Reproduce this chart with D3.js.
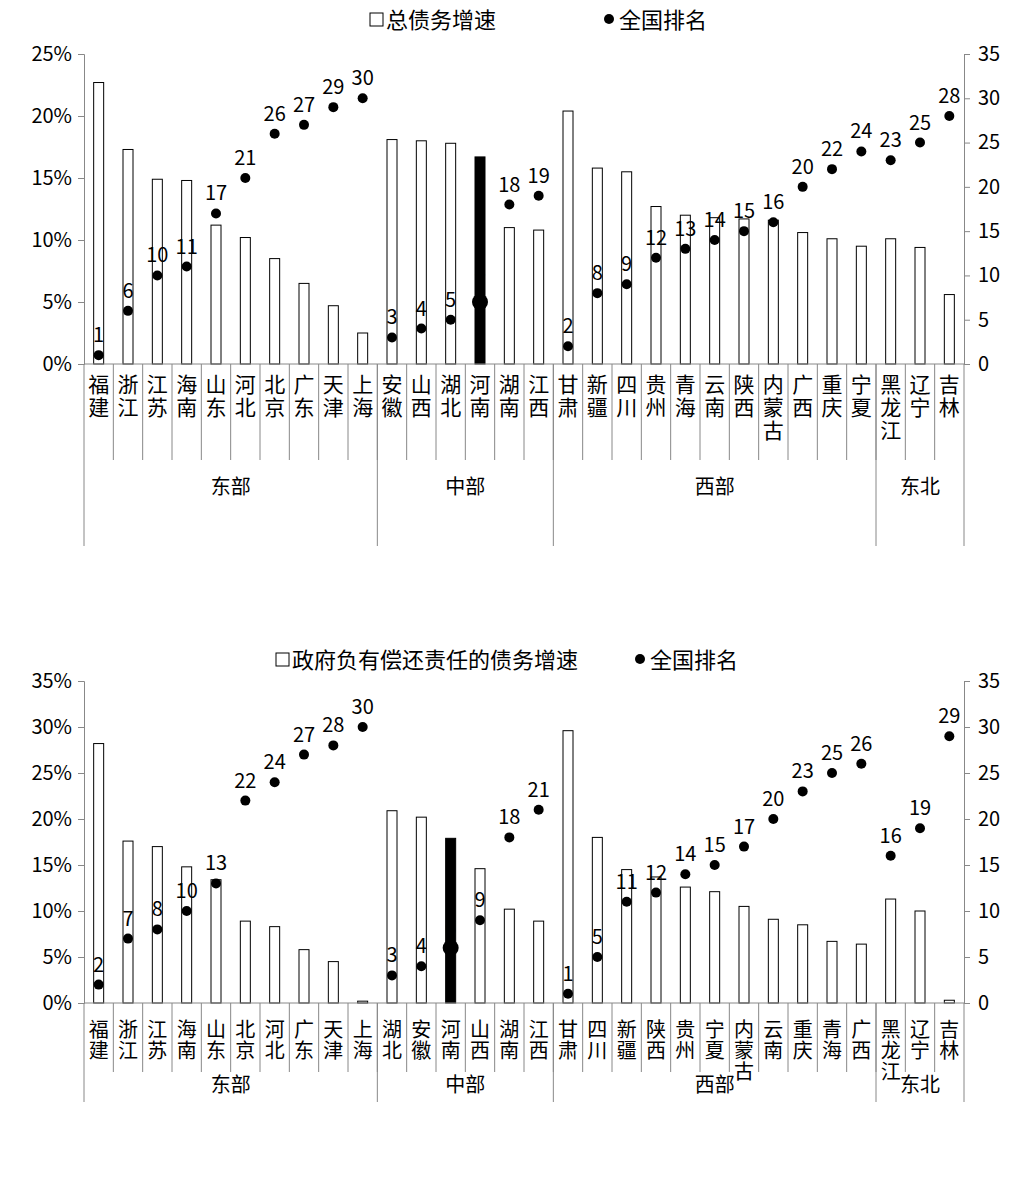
<!DOCTYPE html>
<html><head><meta charset="utf-8">
<script src="https://cdn.jsdelivr.net/npm/d3@7"></script>
<style>body{margin:0;background:#fff}text{font-family:"Noto Sans CJK SC","DejaVu Sans",sans-serif}</style>
</head><body><svg id="c" width="1020" height="1185"></svg>
<script>
const groups1=[["东部",10],["中部",6],["西部",11],["东北",3]];
const cats1=["福建","浙江","江苏","海南","山东","河北","北京","广东","天津","上海","安徽","山西","湖北","河南","湖南","江西","甘肃","新疆","四川","贵州","青海","云南","陕西","内蒙古","广西","重庆","宁夏","黑龙江","辽宁","吉林"];
const vals1=[22.7,17.3,14.9,14.8,11.2,10.2,8.5,6.5,4.7,2.5,18.1,18.0,17.8,16.7,11.0,10.8,20.4,15.8,15.5,12.7,12.0,11.8,11.7,11.6,10.6,10.1,9.5,10.1,9.4,5.6];
const ranks1=[1,6,10,11,17,21,26,27,29,30,3,4,5,7,18,19,2,8,9,12,13,14,15,16,20,22,24,23,25,28];
const cats2=["福建","浙江","江苏","海南","山东","北京","河北","广东","天津","上海","湖北","安徽","河南","山西","湖南","江西","甘肃","四川","新疆","陕西","贵州","宁夏","内蒙古","云南","重庆","青海","广西","黑龙江","辽宁","吉林"];
const vals2=[28.2,17.6,17.0,14.8,13.4,8.9,8.3,5.8,4.5,0.2,20.9,20.2,17.9,14.6,10.2,8.9,29.6,18.0,14.5,13.7,12.6,12.1,10.5,9.1,8.5,6.7,6.4,11.3,10.0,0.3];
const ranks2=[2,7,8,10,13,22,24,27,28,30,3,4,6,9,18,21,1,5,11,12,14,15,17,20,23,25,26,16,19,29];
const leftTicks1=[0,5,10,15,20,25], leftTicks2=[0,5,10,15,20,25,30,35], rightTicks=[0,5,10,15,20,25,30,35];
const svg=d3.select("#c");
function chart(o){
  const g=svg.append("g");
  const x=d3.scaleBand().domain(o.cats).range([84,964]);
  const y=d3.scaleLinear().domain([0,o.ymax]).range([o.y0,o.y1]);
  const yr=d3.scaleLinear().domain([0,35]).range([o.y0,o.y1]);
  const gray="#888";
  const la=g.append("g").attr("transform","translate(84,0)").call(d3.axisLeft(y).tickValues(o.lt).tickFormat(d=>d+"%").tickSize(6));
  const ra=g.append("g").attr("transform","translate(964,0)").call(d3.axisRight(yr).tickValues(rightTicks).tickSize(6));
  [la,ra].forEach(a=>{a.selectAll("path,line").attr("stroke",gray);a.selectAll("text").attr("font-size",20).attr("fill","#000").attr("font-family","'Noto Sans','DejaVu Sans',sans-serif");});
  la.selectAll("text").attr("x",-12);ra.selectAll("text").attr("x",14);
  g.selectAll(".b").data(o.cats).join("rect").attr("x",d=>x(d)+x.bandwidth()/2-5).attr("width",10)
   .attr("y",(d,i)=>y(o.vals[i])).attr("height",(d,i)=>o.y0-y(o.vals[i]))
   .attr("fill",d=>d==="河南"?"#000":"#fff").attr("stroke","#000").attr("stroke-width",1);
  g.append("line").attr("x1",84).attr("x2",964).attr("y1",o.y0).attr("y2",o.y0).attr("stroke",gray);
  o.cats.forEach((c,i)=>{ if(i>0) g.append("line").attr("x1",x(c)).attr("x2",x(c)).attr("y1",o.y0).attr("y2",o.lv1).attr("stroke",gray);});
  let idx=0;
  const bounds=[84];
  o.groups.forEach(([n,k])=>{const xs=x(o.cats[idx]);idx+=k;const xe=idx<o.cats.length?x(o.cats[idx]):964;bounds.push(xe);
    g.append("text").attr("x",(xs+xe)/2).attr("y",o.gy).attr("text-anchor","middle").attr("font-size",20).text(n);});
  bounds.forEach(b=>g.append("line").attr("x1",b).attr("x2",b).attr("y1",o.y0).attr("y2",o.bot).attr("stroke",gray));
  o.cats.forEach(c=>{const t=g.append("text").attr("text-anchor","middle").attr("font-size",o.fs);
    [...c].forEach((ch,j)=>t.append("tspan").attr("x",x(c)+x.bandwidth()/2).attr("y",o.y0+o.lab+j*o.sp).text(ch));});
  g.selectAll(".d").data(o.cats).join("circle").attr("cx",d=>x(d)+x.bandwidth()/2).attr("cy",(d,i)=>yr(o.ranks[i]))
   .attr("r",d=>d==="河南"?8:5).attr("fill","#000");
  g.selectAll(".l").data(o.cats).join("text").attr("x",d=>x(d)+x.bandwidth()/2).attr("y",(d,i)=>yr(o.ranks[i])-13)
   .attr("text-anchor","middle").attr("font-size",20).attr("font-family","'Noto Sans','DejaVu Sans',sans-serif").text((d,i)=>o.ranks[i]);
  const lg=g.append("g");
  lg.append("rect").attr("x",o.lx).attr("y",o.ly-15).attr("width",13).attr("height",13).attr("fill","#fff").attr("stroke","#000");
  lg.append("text").attr("x",o.lx+16).attr("y",o.ly).attr("font-size",22).text(o.lt1);
  lg.append("circle").attr("cx",o.lx2).attr("cy",o.ly-9).attr("r",5).attr("fill","#000");
  lg.append("text").attr("x",o.lx2+10).attr("y",o.ly).attr("font-size",22).text("全国排名");
}
chart({cats:cats1,vals:vals1,ranks:ranks1,groups:groups1,ymax:25,lt:leftTicks1,y0:364,y1:54,lv1:460,gy:494,bot:546,lab:28,sp:23,fs:21,lx:370,lx2:609,ly:28,lt1:"总债务增速"});
chart({cats:cats2,vals:vals2,ranks:ranks2,groups:groups1,ymax:35,lt:leftTicks2,y0:1003,y1:681,lv1:1072,gy:1092,bot:1102,lab:34,sp:21,fs:20,lx:276,lx2:640,ly:668,lt1:"政府负有偿还责任的债务增速"});
</script></body></html>
